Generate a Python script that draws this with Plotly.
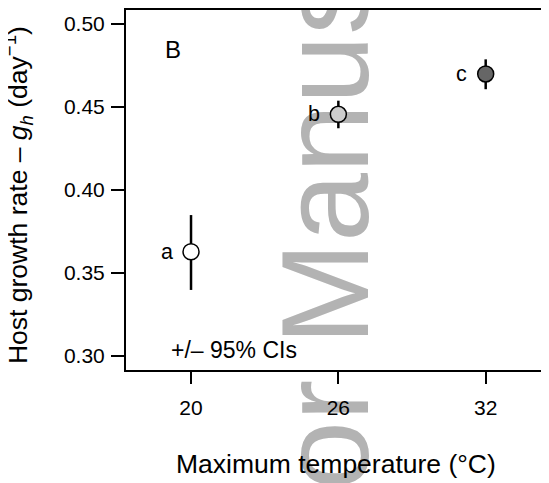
import plotly.graph_objects as go

# Data
temps = [20, 26, 32]
growth = [0.3628, 0.4456, 0.4699]
ci_lower = [0.3398, 0.4372, 0.4607]
ci_upper = [0.3849, 0.4538, 0.4787]
letters = ["a", "b", "c"]
fill_colors = ["#ffffff", "#cccccc", "#666666"]
x_ticks = [20, 26, 32]
y_ticks = [0.30, 0.35, 0.40, 0.45, 0.50]
y_tick_labels = ["0.30", "0.35", "0.40", "0.45", "0.50"]

FONT = "Liberation Sans, Arial, Helvetica, sans-serif"

err_plus = [u - g for u, g in zip(ci_upper, growth)]
err_minus = [g - l for g, l in zip(growth, ci_lower)]

fig = go.Figure()
fig.add_trace(go.Scatter(
    x=temps, y=growth, mode="markers",
    marker=dict(size=16, color=fill_colors, line=dict(color="black", width=1.5)),
    error_y=dict(type="data", symmetric=False, array=err_plus, arrayminus=err_minus,
                 width=0, thickness=2.5, color="black"),
    showlegend=False, cliponaxis=False,
))

annotations = []
for t, g, lab in zip(temps, growth, letters):
    annotations.append(dict(x=t, y=g, xref="x", yref="y", text=lab, showarrow=False,
                            xshift=-24, xanchor="center", yanchor="middle",
                            font=dict(family=FONT, size=21.5, color="black")))
annotations.append(dict(x=0.111, y=0.889, xref="paper", yref="paper", text="B",
                        showarrow=False, xanchor="center", yanchor="middle",
                        font=dict(family=FONT, size=24, color="black")))
annotations.append(dict(x=0.255, y=0.0556, xref="paper", yref="paper", text="+/– 95% CIs",
                        showarrow=False, xanchor="center", yanchor="middle",
                        font=dict(family=FONT, size=23, color="black")))
annotations.append(dict(x=-0.2553, y=0.486, xref="paper", yref="paper",
                        text="Host growth rate – <i>g</i><sub><i>h</i></sub> (day<sup>−1</sup>)",
                        textangle=-90, showarrow=False, xanchor="center", yanchor="middle",
                        font=dict(family=FONT, size=26.5, color="black")))
annotations.append(dict(x=0.4965, y=-0.261, xref="paper", yref="paper",
                        text="Maximum temperature (°C)",
                        showarrow=False, xanchor="center", yanchor="middle",
                        font=dict(family=FONT, size=26.5, color="black")))

# watermark, drawn beneath everything
cx, cy = 0.4421, 0.3556
shapes = [dict(type="rect", xref="paper", yref="paper",
               x0=cx - 0.01, x1=cx + 0.01, y0=cy - 0.01, y1=cy + 0.01,
               line=dict(width=0), fillcolor="rgba(0,0,0,0)", layer="below",
               label=dict(text="Author Manuscript", textangle=-90,
                          textposition="middle center",
                          font=dict(family=FONT, size=124, color="#b3b3b3")))]

# The page body adds an 8px offset, so the figure is 8px smaller and margins shifted.
fig.update_layout(
    width=541, height=475,
    margin=dict(l=118, r=0, t=2, b=113),
    paper_bgcolor="white", plot_bgcolor="rgba(0,0,0,0)",
    font=dict(family=FONT, color="black"),
    annotations=annotations, shapes=shapes,
    xaxis=dict(range=[17.352, 34.578], tickvals=x_ticks, ticktext=[str(v) for v in x_ticks],
               showgrid=False, zeroline=False, showline=True, linecolor="black", linewidth=2,
               mirror=True, ticks="outside", ticklen=12, tickwidth=2, tickcolor="black",
               ticklabelstandoff=6,
               tickfont=dict(family=FONT, size=21, color="black")),
    yaxis=dict(range=[0.29157, 0.50843], tickvals=y_ticks, ticktext=y_tick_labels,
               showgrid=False, zeroline=False, showline=True, linecolor="black", linewidth=2,
               mirror=False, ticks="outside", ticklen=13, tickwidth=2, tickcolor="black",
               ticklabelstandoff=2,
               tickfont=dict(family=FONT, size=21, color="black")),
)

fig.write_html("out.html")
